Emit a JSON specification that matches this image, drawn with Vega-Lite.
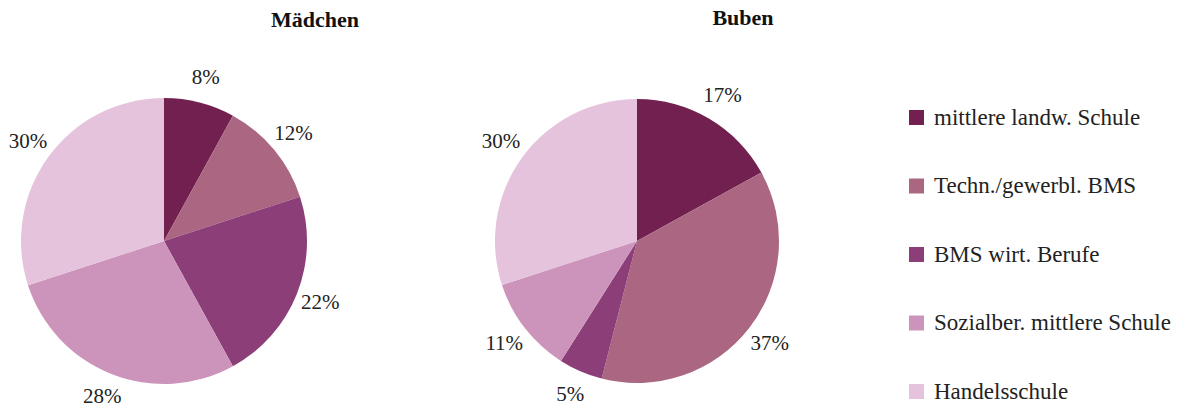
{
  "$schema": "https://vega.github.io/schema/vega-lite/v6.json",
  "padding": {"left": 5, "top": 7, "right": 5, "bottom": 0},
  "background": "white",
  "bounds": "flush",
  "data": {
    "values": [
      {"Gruppe": "Mädchen", "Schultyp": "mittlere landw. Schule", "Anteil": 0.08},
      {"Gruppe": "Mädchen", "Schultyp": "Techn./gewerbl. BMS", "Anteil": 0.12},
      {"Gruppe": "Mädchen", "Schultyp": "BMS wirt. Berufe", "Anteil": 0.22},
      {"Gruppe": "Mädchen", "Schultyp": "Sozialber. mittlere Schule", "Anteil": 0.28},
      {"Gruppe": "Mädchen", "Schultyp": "Handelsschule", "Anteil": 0.30},
      {"Gruppe": "Buben", "Schultyp": "mittlere landw. Schule", "Anteil": 0.17},
      {"Gruppe": "Buben", "Schultyp": "Techn./gewerbl. BMS", "Anteil": 0.37},
      {"Gruppe": "Buben", "Schultyp": "BMS wirt. Berufe", "Anteil": 0.05},
      {"Gruppe": "Buben", "Schultyp": "Sozialber. mittlere Schule", "Anteil": 0.11},
      {"Gruppe": "Buben", "Schultyp": "Handelsschule", "Anteil": 0.30}
    ]
  },
  "transform": [
    {"calculate": "indexof(['mittlere landw. Schule', 'Techn./gewerbl. BMS', 'BMS wirt. Berufe', 'Sozialber. mittlere Schule', 'Handelsschule'], datum.Schultyp)", "as": "Reihenfolge"}
  ],
  "spacing": 64,
  "hconcat": [
    {
      "width": 318,
      "height": 322,
      "title": {"text": "Mädchen", "dx": 151, "offset": 35, "frame": "group"},
      "transform": [{"filter": "datum.Gruppe == 'Mädchen'"}],
      "encoding": {
        "theta": {"field": "Anteil", "type": "quantitative", "stack": true},
        "order": {"field": "Reihenfolge", "type": "quantitative", "sort": "ascending"},
        "color": {
          "field": "Schultyp",
          "type": "nominal",
          "scale": {
            "domain": ["mittlere landw. Schule", "Techn./gewerbl. BMS", "BMS wirt. Berufe", "Sozialber. mittlere Schule", "Handelsschule"],
            "range": ["#722050", "#ab6682", "#8c3e78", "#cc94bb", "#e5c3dc"]
          },
          "legend": {
            "title": null,
            "orient": "none",
            "legendX": 900,
            "legendY": 26,
            "symbolType": "square",
            "symbolSize": 225,
            "symbolStrokeWidth": 0,
            "labelFont": "Liberation Serif",
            "labelFontSize": 23,
            "labelColor": "#222222",
            "labelOffset": 6,
            "rowPadding": 44.5,
            "labelLimit": 400
          }
        }
      },
      "layer": [
        {"mark": {"type": "arc", "outerRadius": 143}},
        {
          "mark": {"type": "text", "radius": 168, "font": "Liberation Serif", "fontSize": 21},
          "encoding": {"text": {"field": "Anteil", "type": "quantitative", "format": ".0%"}, "color": {"value": "#222222"}}
        }
      ]
    },
    {
      "width": 500,
      "height": 322,
      "title": {"text": "Buben", "dx": 106, "offset": 50, "frame": "group"},
      "transform": [{"filter": "datum.Gruppe == 'Buben'"}],
      "encoding": {
        "theta": {"field": "Anteil", "type": "quantitative", "stack": true},
        "order": {"field": "Reihenfolge", "type": "quantitative", "sort": "ascending"},
        "color": {
          "field": "Schultyp",
          "type": "nominal",
          "scale": {
            "domain": ["mittlere landw. Schule", "Techn./gewerbl. BMS", "BMS wirt. Berufe", "Sozialber. mittlere Schule", "Handelsschule"],
            "range": ["#722050", "#ab6682", "#8c3e78", "#cc94bb", "#e5c3dc"]
          },
          "legend": {
            "title": null,
            "orient": "none",
            "legendX": 900,
            "legendY": 26,
            "symbolType": "square",
            "symbolSize": 225,
            "symbolStrokeWidth": 0,
            "labelFont": "Liberation Serif",
            "labelFontSize": 23,
            "labelColor": "#222222",
            "labelOffset": 6,
            "rowPadding": 44.5,
            "labelLimit": 400
          }
        }
      },
      "layer": [
        {"mark": {"type": "arc", "outerRadius": 142}},
        {
          "mark": {"type": "text", "radius": 168, "font": "Liberation Serif", "fontSize": 21},
          "encoding": {"text": {"field": "Anteil", "type": "quantitative", "format": ".0%"}, "color": {"value": "#222222"}}
        }
      ]
    }
  ],
  "config": {
    "view": {"stroke": null},
    "title": {"font": "Liberation Serif", "fontSize": 22, "fontWeight": "bold", "color": "#111111", "anchor": "middle"}
  }
}
